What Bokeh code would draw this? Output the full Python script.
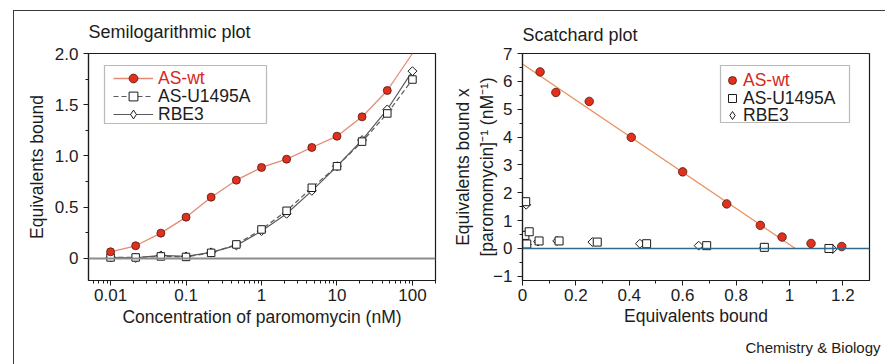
import math
from bokeh.plotting import figure
from bokeh.layouts import row
from bokeh.models import (FixedTicker, Legend, LegendItem, Span, BoxAnnotation,
                          Range1d, CustomJSTickFormatter, Title, InlineStyleSheet)
from bokeh.embed import file_html
from bokeh.resources import INLINE

# ---------------- data ----------------
conc_nM = [0.01, 0.0215, 0.0464, 0.1, 0.215, 0.464, 1, 2.15, 4.64, 10, 21.5, 46.4]
conc_mut_nM = [0.01, 0.0215, 0.0464, 0.1, 0.215, 0.464, 1, 2.15, 4.64, 10, 21.5, 46.4, 100]
wt_bound = [0.065, 0.124, 0.247, 0.403, 0.598, 0.764, 0.888, 0.969, 1.083, 1.193, 1.382, 1.639]
wt_curve_x = [0.01, 0.0215, 0.0464, 0.1, 0.215, 0.464, 1, 2.15, 4.64, 10, 21.5, 46.4, 100]
wt_curve_y = [0.065, 0.124, 0.247, 0.403, 0.598, 0.764, 0.888, 0.969, 1.083, 1.193, 1.382, 1.639, 2.0]
u1495a_bound = [0.01, 0.01, 0.02, 0.015, 0.055, 0.137, 0.283, 0.465, 0.69, 0.90, 1.14, 1.415, 1.746]
rbe3_bound = [0.01, 0.005, 0.03, 0.02, 0.06, 0.127, 0.267, 0.436, 0.66, 0.90, 1.155, 1.454, 1.828]

wt_sc_x = [0.066, 0.125, 0.25, 0.4075, 0.60, 0.765, 0.891, 0.9725, 1.081, 1.196]
wt_sc_y = [6.34, 5.60, 5.28, 3.99, 2.75, 1.60, 0.83, 0.41, 0.18, 0.07]
u_sc_x = [0.012, 0.009, 0.025, 0.016, 0.062, 0.137, 0.28, 0.465, 0.69, 0.906, 1.148]
u_sc_y = [1.68, 0.47, 0.60, 0.16, 0.27, 0.27, 0.23, 0.17, 0.10, 0.04, 0.0]
r_sc_x = [0.014, 0.006, 0.014, 0.016, 0.058, 0.13, 0.262, 0.44, 0.66, 0.905, 1.162]
r_sc_y = [1.57, 0.38, 0.52, 0.14, 0.25, 0.27, 0.23, 0.17, 0.10, 0.04, -0.02]
fit_x = [0.0, 1.022]
fit_y = [6.62, 0.0]

left_xticks = [0.01, 0.1, 1, 10, 100]
left_yticks = [0, 0.5, 1.0, 1.5, 2.0]
right_xticks = [0, 0.2, 0.4, 0.6, 0.8, 1.0, 1.2]
right_yticks = [-1, 0, 1, 2, 3, 4, 5, 6, 7]

FONT = "Liberation Sans"
INK = "#1c1c1c"
RED_FILL = "#e2301f"
RED_EDGE = "#4a1a12"
RED_LINE = "#e58a74"
RED_TEXT = "#d42a1c"
FIT_LINE = "#e8905c"
GREY = "#5a5a5a"


def base_style(p, title_standoff):
    p.xgrid.visible = False
    p.ygrid.visible = False
    p.outline_line_color = INK
    p.outline_line_width = 1.2
    p.background_fill_color = "white"
    p.border_fill_color = "white"
    for ax in (p.xaxis[0], p.yaxis[0]):
        ax.axis_line_color = INK
        ax.axis_line_width = 1.2
        ax.major_tick_line_color = INK
        ax.minor_tick_line_color = INK
        ax.major_tick_in = 0
        ax.major_tick_out = 5
        ax.minor_tick_in = 0
        ax.minor_tick_out = 3
        ax.major_label_text_font = FONT
        ax.major_label_text_font_size = "17px"
        ax.major_label_text_color = INK
        ax.axis_label_text_font = FONT
        ax.axis_label_text_font_size = "17.5px"
        ax.axis_label_text_font_style = "normal"
        ax.axis_label_text_color = INK
    p.xaxis[0].major_label_standoff = 3
    p.yaxis[0].major_label_standoff = 5
    p.title.text_font = FONT
    p.title.text_font_size = "18px"
    p.title.text_font_style = "normal"
    p.title.text_color = INK
    p.title.align = "left"
    p.title.standoff = title_standoff


def legend_row(p, label, renderers, loc, color, gw, standoff):
    p.add_layout(Legend(items=[LegendItem(label=label, renderers=renderers)],
                        location=loc, orientation="vertical",
                        border_line_alpha=0, background_fill_alpha=0,
                        padding=0, spacing=0, margin=0,
                        label_height=17, glyph_height=22, glyph_width=gw,
                        label_standoff=standoff, label_text_font=FONT,
                        label_text_font_size="17.5px", label_text_color=color))


def legend_box(p, left, right, bottom, top):
    p.add_layout(BoxAnnotation(left=left, right=right, bottom=bottom, top=top,
                               left_units="screen", right_units="screen",
                               top_units="screen", bottom_units="screen",
                               fill_color="white", fill_alpha=1,
                               line_color=INK, line_width=1.2))


# ---------------- left: semilog ----------------
p1 = figure(width=445, height=364, x_axis_type="log",
            x_range=Range1d(0.0051, 202), y_range=Range1d(-0.215, 2.0),
            output_backend="svg", toolbar_location=None,
            title="Semilogarithmic plot",
            min_border_left=88, min_border_right=10,
            min_border_top=53, min_border_bottom=84)
base_style(p1, 23)
p1.xaxis.axis_label = "Concentration of paromomycin (nM)"
p1.yaxis.axis_label = "Equivalents bound"
p1.xaxis.axis_label_standoff = 3
p1.yaxis.axis_label_standoff = 5

minor_log = [m * 10.0 ** e for e in range(-3, 3) for m in range(2, 10)]
p1.xaxis.ticker = FixedTicker(ticks=left_xticks, minor_ticks=minor_log)
p1.xaxis.formatter = CustomJSTickFormatter(code="return tick.toString()")
p1.yaxis.ticker = FixedTicker(ticks=left_yticks, minor_ticks=[0.25, 0.75, 1.25, 1.75])
p1.yaxis.formatter = CustomJSTickFormatter(code="return tick == 0 ? '0' : tick.toFixed(1)")

p1.add_layout(Span(location=0, dimension="width", line_color="#8c8c8c", line_width=2))

wt_line = p1.line(wt_curve_x, wt_curve_y, line_color=RED_LINE, line_width=1.3)
u_line = p1.line(conc_mut_nM, u1495a_bound, line_color=GREY, line_width=1.2, line_dash="5 3")
r_line = p1.line(conc_mut_nM, rbe3_bound, line_color=GREY, line_width=1.2)
r_pts = p1.scatter(conc_mut_nM, rbe3_bound, marker="square", angle=math.pi / 4, size=6.3,
                   fill_color="white", line_color=INK, line_width=1)
u_pts = p1.scatter(conc_mut_nM, u1495a_bound, marker="square", size=7.5,
                   fill_color="white", line_color=INK, line_width=1)
wt_pts = p1.scatter(conc_nM, wt_bound, marker="circle", size=8,
                    fill_color=RED_FILL, line_color=RED_EDGE, line_width=0.8)
# legend-only diamond glyph (same data, hidden on the plot)
r_key1 = p1.scatter(conc_mut_nM, rbe3_bound, marker="diamond", size=9,
                    fill_color="white", line_color=INK, line_width=1, visible=False)

# legend (left): frame left=88, frame bottom=280 on canvas
legend_box(p1, 16, 178, 157, 215)
legend_row(p1, "AS-wt", [wt_line, wt_pts], (25, 191), RED_TEXT, 40, 5)
legend_row(p1, "AS-U1495A", [u_line, u_pts], (25, 173), INK, 40, 5)
legend_row(p1, "RBE3", [r_line, r_key1], (25, 155), INK, 40, 5)

# ---------------- right: Scatchard ----------------
p2 = figure(width=440, height=364,
            x_range=Range1d(0, 1.3), y_range=Range1d(-1.15, 7.0),
            output_backend="svg", toolbar_location=None,
            title="Scatchard plot",
            min_border_left=77, min_border_right=16,
            min_border_top=53, min_border_bottom=79)
base_style(p2, 17)
p2.xaxis.axis_label = "Equivalents bound"
p2.yaxis.axis_label = "Equivalents bound x\n[paromomycin]\u207b\u00b9 (nM\u207b\u00b9)"
p2.xaxis.axis_label_standoff = 2
p2.yaxis.axis_label_standoff = -7
p2.xaxis.ticker = FixedTicker(ticks=right_xticks,
                              minor_ticks=[0.1, 0.3, 0.5, 0.7, 0.9, 1.1])
p2.xaxis.formatter = CustomJSTickFormatter(code="return (Math.round(tick*10)/10).toString()")
p2.yaxis.ticker = FixedTicker(ticks=right_yticks,
                              minor_ticks=[-0.5, 0.5, 1.5, 2.5, 3.5, 4.5, 5.5, 6.5])
p2.yaxis.formatter = CustomJSTickFormatter(
    code="return tick < 0 ? '\\u2212' + Math.abs(tick) : tick.toString()")

p2.add_layout(Span(location=0, dimension="width", line_color="#2f6a8c", line_width=1.5))
p2.line(fit_x, fit_y, line_color=FIT_LINE, line_width=1.3)
r2 = p2.scatter(r_sc_x, r_sc_y, marker="square", angle=math.pi / 4, size=6.3,
                fill_color="white", line_color=INK, line_width=1)
u2 = p2.scatter(u_sc_x, u_sc_y, marker="square", size=8,
                fill_color="white", line_color=INK, line_width=1)
w2 = p2.scatter(wt_sc_x, wt_sc_y, marker="circle", size=8.5,
                fill_color=RED_FILL, line_color=RED_EDGE, line_width=0.8)
r_key2 = p2.scatter(r_sc_x, r_sc_y, marker="diamond", size=9,
                    fill_color="white", line_color=INK, line_width=1, visible=False)

# legend (right): frame left=522, frame bottom=285 on canvas
legend_box(p2, 198, 327, 158, 215)
legend_row(p2, "AS-wt", [w2], (200, 189), RED_TEXT, 20, 1)
legend_row(p2, "AS-U1495A", [u2], (200, 171), INK, 20, 1)
legend_row(p2, "RBE3", [r_key2], (200, 154), INK, 20, 1)

credit = Title(text="Chemistry & Biology", align="right", offset=-11, standoff=16,
               text_font=FONT, text_font_size="15px", text_font_style="normal",
               text_color=INK)
p2.add_layout(credit, "below")

page_css = InlineStyleSheet(css="""
:host::after {
  content: "";
  position: absolute;
  left: 13px;
  top: 10px;
  width: 880px;
  height: 360px;
  border-top: 1px solid #3a3a3a;
  border-left: 1px solid #3a3a3a;
  pointer-events: none;
  z-index: 10;
}
""")

layout = row(p1, p2, spacing=0, stylesheets=[page_css])
open("out.html", "w").write(file_html(layout, INLINE))
